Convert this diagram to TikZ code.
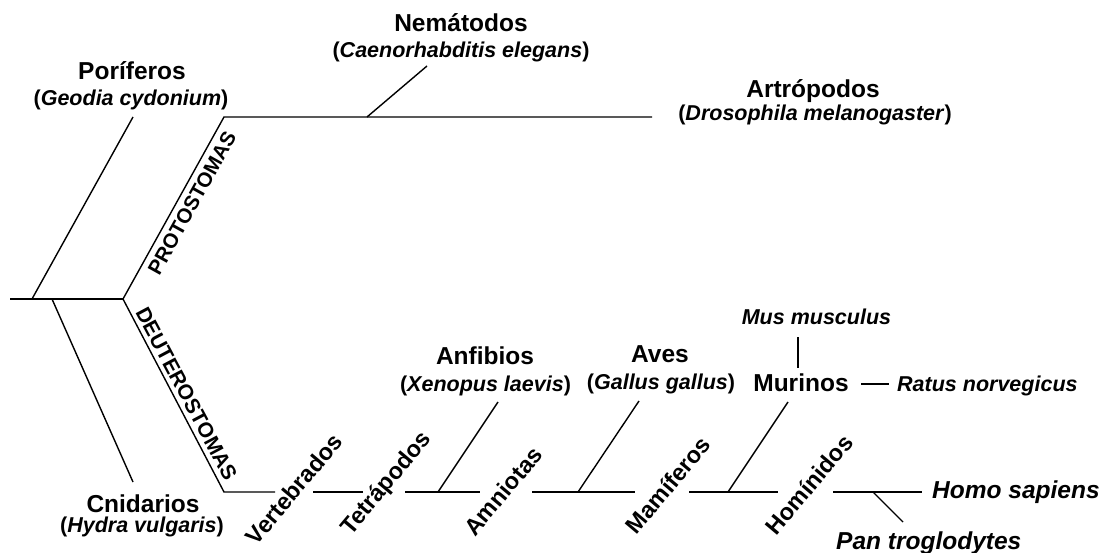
\documentclass[tikz,border=0pt]{standalone}
\usepackage{fontspec}
\setmainfont{Liberation Sans}
\begin{document}
\begin{tikzpicture}[x=1pt,y=-1pt,
  br/.style={line width=1.4pt},
  ttl/.style={font=\fontsize{24.5}{28}\selectfont\bfseries, inner sep=0pt, anchor=base},
  sub/.style={font=\fontsize{21.5}{25}\selectfont\bfseries, inner sep=0pt, anchor=base},
  spbig/.style={font=\fontsize{24.5}{28}\selectfont\bfseries\itshape, inner sep=0pt, anchor=base west},
  spsm/.style={font=\fontsize{21.5}{25}\selectfont\bfseries\itshape, inner sep=0pt},
  rot/.style={font=\fontsize{23.5}{27}\selectfont\bfseries, inner sep=0pt, rotate=50},
  grp/.style={font=\fontsize{20.5}{24}\selectfont\bfseries, inner sep=0pt}]
\useasboundingbox (0,0) rectangle (1104,553);

% branch coordinates
\coordinate (root) at (10,299);
\coordinate (pc) at (32,299);
\coordinate (pe) at (133,117);
\coordinate (cc) at (52,299);
\coordinate (ce) at (133,482);
\coordinate (bil) at (123,299);
\coordinate (pro) at (224,117);
\coordinate (nem) at (367,117);
\coordinate (neme) at (427,66);
\coordinate (arte) at (652,117);
\coordinate (deu) at (224,492);
\coordinate (s1e) at (275,492);
\coordinate (s2a) at (313,492);
\coordinate (s2e) at (363,492);
\coordinate (s3a) at (405,492);
\coordinate (anf) at (438,492);
\coordinate (anfe) at (498,402);
\coordinate (s3e) at (480,492);
\coordinate (s4a) at (532,492);
\coordinate (ave) at (578,492);
\coordinate (avee) at (639,401);
\coordinate (s4e) at (635,492);
\coordinate (s5a) at (689,492);
\coordinate (mur) at (728,492);
\coordinate (mure) at (788,402);
\coordinate (s5e) at (778,492);
\coordinate (s6a) at (833,492);
\coordinate (pan) at (873,492);
\coordinate (pane) at (903,522);
\coordinate (s6e) at (922,492);
\coordinate (musa) at (798,368);
\coordinate (muse) at (798,337);
\coordinate (rata) at (861,384);
\coordinate (rate) at (889,384);

% connectors
\draw[br] (root) -- (bil);
\draw[br] (pc) -- (pe);
\draw[br] (cc) -- (ce);
\draw[br] (bil) -- (pro) -- (arte);
\draw[br] (nem) -- (neme);
\draw[br] (bil) -- (deu) -- (s1e);
\draw[br] (s2a) -- (s2e);
\draw[br] (s3a) -- (s3e);
\draw[br] (anf) -- (anfe);
\draw[br] (s4a) -- (s4e);
\draw[br] (ave) -- (avee);
\draw[br] (s5a) -- (s5e);
\draw[br] (mur) -- (mure);
\draw[br] (s6a) -- (s6e);
\draw[br] (pan) -- (pane);
\draw[br] (musa) -- (muse);
\draw[br] (rata) -- (rate);

% labels
\node[ttl] (por) at (132,80) {Poríferos};
\node[sub] (pors) at (131,105.5) {(\textit{Geodia cydonium})};
\node[ttl] (nemt) at (461,32) {Nemátodos};
\node[sub] (nems) at (461,57.5) {(\textit{Caenorhabditis elegans})};
\node[ttl] (art) at (813,98) {Artrópodos};
\node[sub] (arts) at (815,121) {(\textit{Drosophila melanogaster})};
\node[ttl] (cni) at (143,512) {Cnidarios};
\node[sub] (cnis) at (142,532) {(\textit{Hydra vulgaris})};
\node[ttl] (anft) at (485,365) {Anfibios};
\node[sub] (anfs) at (485.5,391.5) {(\textit{Xenopus laevis})};
\node[ttl] (avet) at (660,363) {Aves};
\node[sub] (aves) at (661,390) {(\textit{Gallus gallus})};
\node[ttl] (murt) at (801,392) {Murinos};
\node[spsm, anchor=base] (mus) at (816.5,325) {Mus musculus};
\node[spsm, anchor=base west] (rat) at (897,392) {Ratus norvegicus};
\node[spbig] (homo) at (932,498) {Homo sapiens};
\node[spbig] (pant) at (836,549) {Pan troglodytes};

\node[rot] (vert) at (294,489) {Vertebrados};
\node[rot] (tetr) at (387,484) {Tetrápodos};
\node[rot] (amni) at (503,491) {Amniotas};
\node[rot] (mami) at (668,485) {Mamíferos};
\node[rot] (homi) at (809,485) {Homínidos};

\node[grp, rotate=61] (prot) at (192,203) {PROTOSTOMAS};
\node[grp, font=\fontsize{21}{24}\selectfont\bfseries, rotate=-62] (deut) at (186.5,394) {DEUTEROSTOMAS};
\end{tikzpicture}
\end{document}
